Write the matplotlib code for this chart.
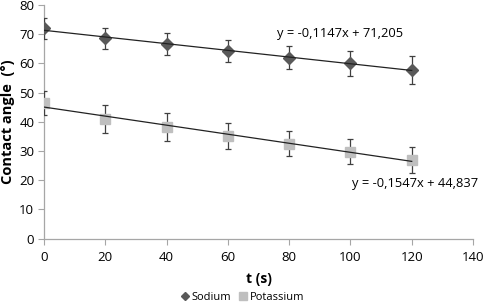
import numpy as np
import matplotlib.pyplot as plt

t = [0, 20, 40, 60, 80, 100, 120]
sodium = [72.0, 68.6, 66.6, 64.1, 62.0, 60.1, 57.8]
sodium_err = [3.6, 3.6, 3.7, 3.8, 4.0, 4.3, 4.8]
potassium = [46.5, 41.0, 38.2, 35.2, 32.5, 29.7, 27.0]
potassium_err = [4.2, 4.7, 4.7, 4.4, 4.3, 4.3, 4.4]

plt.rcParams['font.family'] = ['Open Sans', 'DejaVu Sans']

fig = plt.figure(figsize=(4.84, 3.04), dpi=100)
ax = fig.add_axes([44 / 484, 1 - 238.5 / 304, 429 / 484, 233.5 / 304])

dark = '#595959'
light = '#BFBFBF'

ax.errorbar(t, sodium, yerr=sodium_err, fmt='D', color=dark, ms=6,
            ecolor='#404040', elinewidth=0.9, capsize=2.5, capthick=0.9,
            label='Sodium', zorder=3)
ax.errorbar(t, potassium, yerr=potassium_err, fmt='s', color=light, ms=7,
            ecolor='#404040', elinewidth=0.9, capsize=2.5, capthick=0.9,
            label='Potassium', zorder=3)

# linear trendlines
for y in (sodium, potassium):
    k, b = np.polyfit(t, y, 1)
    xs = np.array([0, 120])
    ax.plot(xs, k * xs + b, color='#222222', lw=0.9, zorder=4)

ax.text(76, 70.4, 'y = -0,1147x + 71,205', fontsize=9.3, va='center', ha='left')
ax.text(100.5, 18.9, 'y = -0,1547x + 44,837', fontsize=9.3, va='center', ha='left')

ax.set_xlim(0, 140)
ax.set_ylim(0, 80)
ax.set_xticks(range(0, 141, 20))
ax.set_yticks(range(0, 81, 10))
for s in ('top', 'right'):
    ax.spines[s].set_visible(False)
for s in ('left', 'bottom'):
    ax.spines[s].set_color('#A6A6A6')
    ax.spines[s].set_linewidth(0.9)
ax.tick_params(direction='out', length=4, color='#A6A6A6', labelsize=9.5, pad=3)
ax.tick_params(axis='x', pad=5)

ax.set_xlabel('t (s)', fontsize=10, fontweight='bold', labelpad=6)
ax.set_ylabel('Contact angle  (°)', fontsize=10.5, fontweight='bold', labelpad=3)

handles = [plt.Line2D([], [], marker='D', color=dark, ls='none', ms=4.5),
           plt.Line2D([], [], marker='s', color=light, ls='none', ms=6)]
fig.legend(handles, ['Sodium', 'Potassium'], loc='lower center',
           bbox_to_anchor=(0.5, -0.03), ncol=2, frameon=False, fontsize=8,
           handletextpad=0.1, columnspacing=0.6, handlelength=1.0)

fig.savefig('out.png', dpi=100)
